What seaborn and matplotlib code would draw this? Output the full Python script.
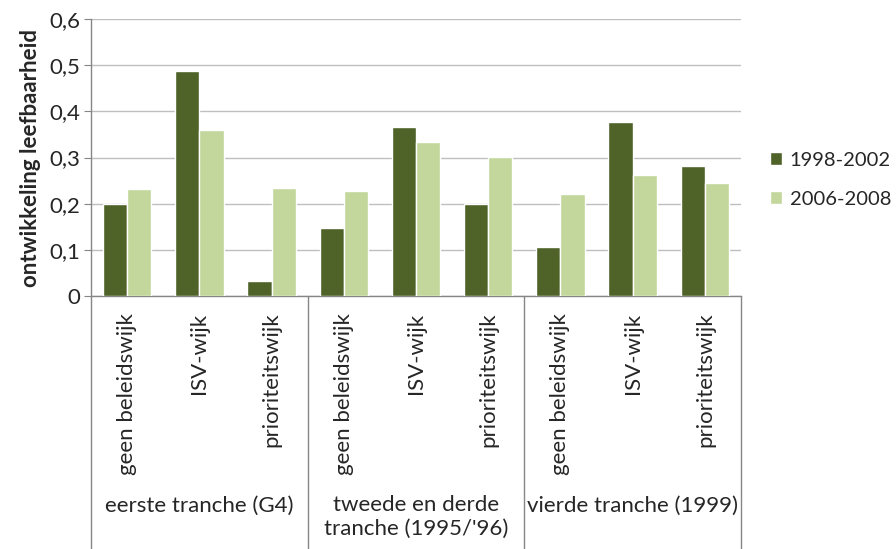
import pandas as pd
import matplotlib.pyplot as plt
import seaborn as sns

# chart data
groups = ["eerste tranche (G4)", "tweede en derde\ntranche (1995/'96)", "vierde tranche (1999)"]
wijk_types = ["geen beleidswijk", "ISV-wijk", "prioriteitswijk"]
series_names = ["1998-2002", "2006-2008"]
values_1998_2002 = [0.199, 0.487, 0.032, 0.147, 0.366, 0.199, 0.106, 0.377, 0.281]
values_2006_2008 = [0.232, 0.359, 0.234, 0.227, 0.333, 0.301, 0.221, 0.262, 0.245]
y_ticks = [0, 0.1, 0.2, 0.3, 0.4, 0.5, 0.6]
y_tick_labels = ["0", "0,1", "0,2", "0,3", "0,4", "0,5", "0,6"]

colors = ["#4F6228", "#C3D69B"]
fs = 16

# build long table
keys = [f"{g}|{w}" for g in groups for w in wijk_types]
df = pd.DataFrame({
    "key": keys * 2,
    "periode": [series_names[0]] * len(keys) + [series_names[1]] * len(keys),
    "waarde": values_1998_2002 + values_2006_2008,
})

sns.set_style("white")
plt.rcParams['font.family'] = ['Lato', 'DejaVu Sans']

fig = plt.figure(figsize=(8.96, 5.49), dpi=100)
ax = fig.add_axes([0.1016, 0.4608, 0.7254, 0.5046])

sns.barplot(data=df, x="key", y="waarde", hue="periode", order=keys,
            palette=colors, width=0.67, saturation=1, ax=ax, zorder=3)

ax.set_ylim(0, 0.6)
ax.set_xlim(-0.5, len(keys) - 0.5)
ax.set_yticks(y_ticks)
ax.set_yticklabels(y_tick_labels, fontsize=fs)
ax.yaxis.grid(True, color="#BFBFBF", linewidth=1, zorder=0)
ax.set_axisbelow(True)

ax.set_xticks(range(len(keys)))
ax.set_xticklabels(wijk_types * len(groups), rotation=90, fontsize=fs, va="top")
ax.tick_params(axis="x", length=0, pad=12)
ax.tick_params(axis="y", length=5, color="#868686", left=True, pad=3)

ax.set_xlabel("")
ax.set_ylabel("ontwikkeling leefbaarheid", fontsize=fs, fontweight="bold", labelpad=6)

for side in ["top", "right"]:
    ax.spines[side].set_visible(False)
for side in ["left", "bottom"]:
    ax.spines[side].set_color("#868686")
    ax.spines[side].set_linewidth(1)

# group separators and group labels below the axis
xt = ax.get_xaxis_transform()
for b in [-0.5, 2.5, 5.5, 8.5]:
    ax.plot([b, b], [0, -0.92], color="#868686", linewidth=1, transform=xt, clip_on=False)
for i, g in enumerate(groups):
    ax.text(i * 3 + 1, -0.72, g, transform=xt, ha="center", va="top",
            fontsize=fs, linespacing=1.2)

leg = ax.legend(loc="center left", bbox_to_anchor=(1.044, 0.42), frameon=False,
                fontsize=14.5, handlelength=0.6, handleheight=0.6,
                handletextpad=0.4, labelspacing=1.1, borderpad=0, borderaxespad=0)

fig.savefig("out.png", dpi=100)
